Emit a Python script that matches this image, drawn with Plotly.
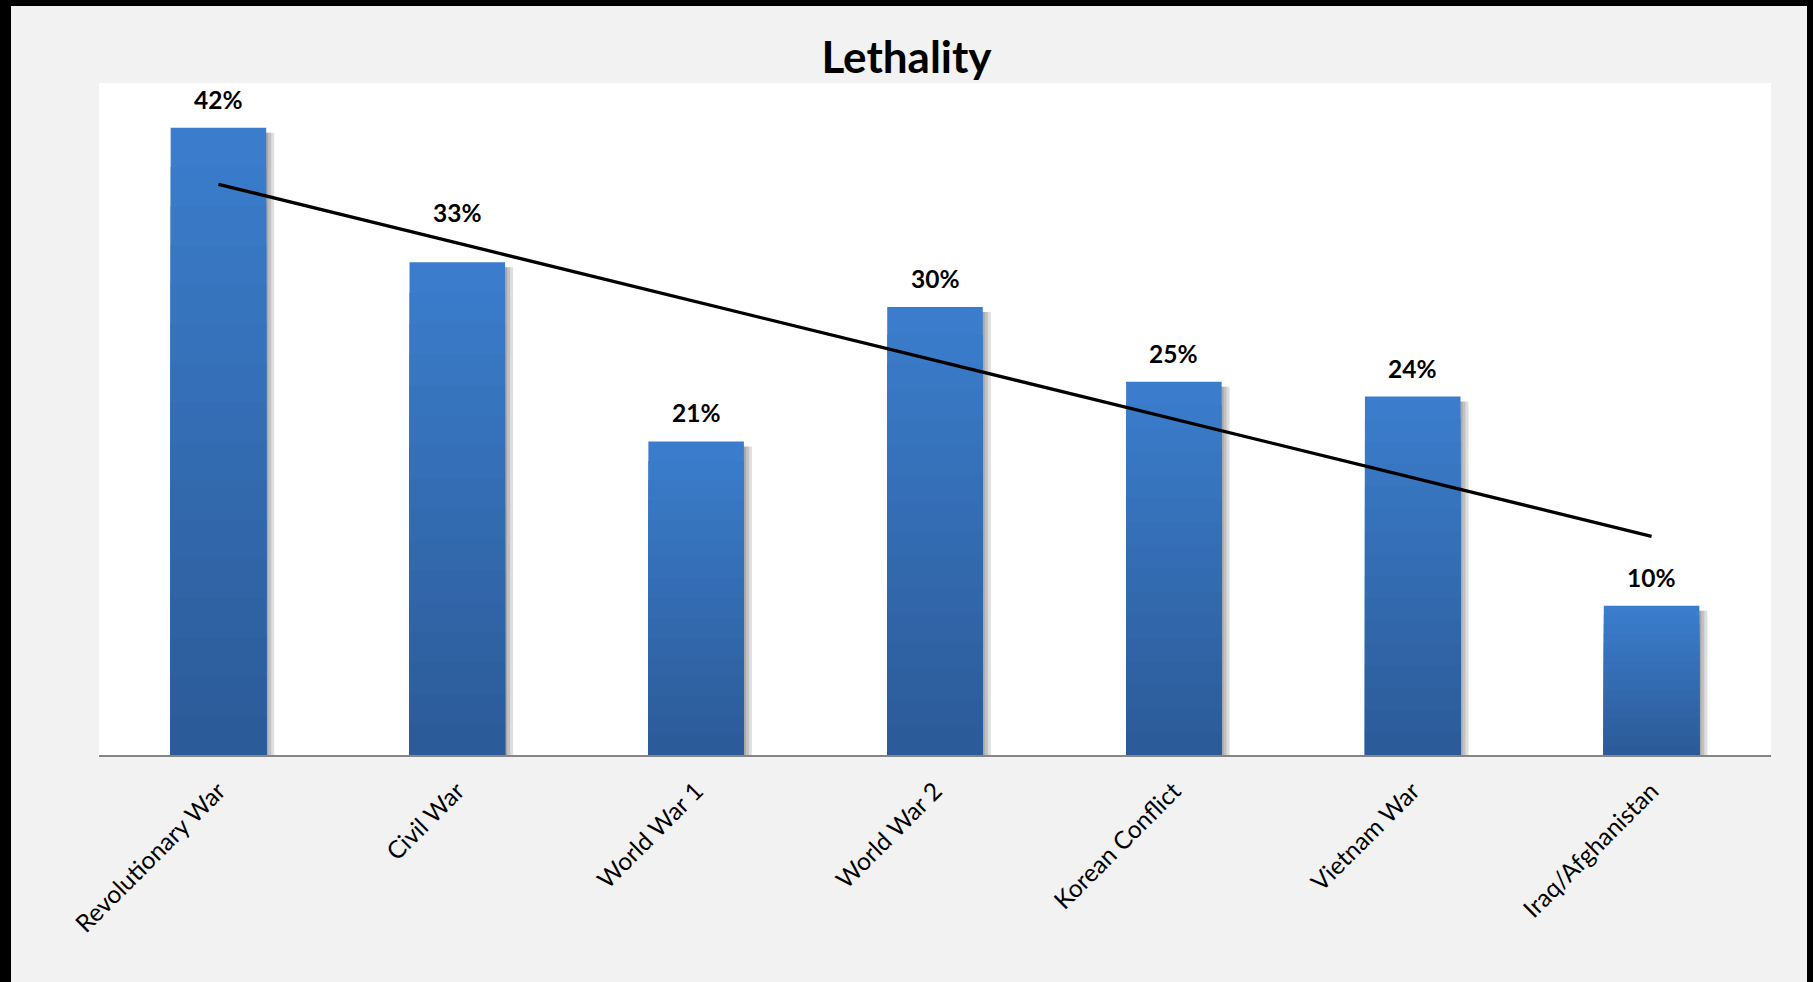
import numpy as np
import plotly.graph_objects as go

# ---- data ----
categories = ["Revolutionary War", "Civil War", "World War 1", "World War 2",
              "Korean Conflict", "Vietnam War", "Iraq/Afghanistan"]
lethality = [0.42, 0.33, 0.21, 0.30, 0.25, 0.24, 0.10]
title_text = "Lethality"

# ---- layout constants ----
W, H = 1813, 982
ML, MR, MT, MB = 99, 42, 83, 227
PW, PH = W - ML - MR, H - MT - MB
YMAX = 0.45
FONT = "Lato, 'Open Sans', Arial, sans-serif"

BAR_W = 0.40
unit_px = PW / len(categories)
top_rgb = np.array([59, 125, 204])
bot_rgb = np.array([44, 91, 153])
label_shift = {"Civil War": 21}  # label lifted clear of the trendline

vals = np.array(lethality)
fig = go.Figure()

# soft drop shadow (right side) derived from the data bars
shadow_drop = 5 / PH * YMAX
for dpx in (2, 5, 8):
    fig.add_trace(go.Bar(
        x=categories, y=np.maximum(vals - shadow_drop, 0),
        width=BAR_W, offset=-BAR_W / 2 + dpx / unit_px,
        marker=dict(color="rgba(0,0,0,0.13)", line=dict(width=0)),
        hoverinfo="skip", showlegend=False))

# main bars (data) with a vertical gradient built from overlaid layers
N = 16
for k in range(N):
    t = k / (N - 1)
    c = top_rgb * (1 - t) + bot_rgb * t
    color = "rgb(%d,%d,%d)" % tuple(np.round(c).astype(int))
    frac = (N - k) / N
    fig.add_trace(go.Bar(
        x=categories, y=vals * frac,
        width=BAR_W, offset=-BAR_W / 2,
        marker=dict(color=color, line=dict(width=0)),
        name="Lethality" if k == 0 else None,
        hoverinfo="x+y" if k == 0 else "skip",
        showlegend=False))

# linear trendline fitted to the data
xi = np.arange(len(categories))
slope, intercept = np.polyfit(xi, vals, 1)
fig.add_trace(go.Scatter(
    x=categories, y=intercept + slope * xi, mode="lines",
    line=dict(color="black", width=3.3), hoverinfo="skip", showlegend=False))

# value labels
for c, v in zip(categories, lethality):
    fig.add_annotation(x=c, y=v, text="<b>%d%%</b>" % round(v * 100),
                       showarrow=False, yanchor="bottom",
                       yshift=12 + label_shift.get(c, 0),
                       font=dict(family=FONT, size=24.5, color="black"))

# black frame on left / top / right edges
def px_x(p):
    return (p - ML) / PW

def px_y(p):
    return (H - MB - p) / PH

frame = [(0, 0, 11, H), (0, 0, W, 6), (W - 6, 0, W, H)]
for x0, y0, x1, y1 in frame:
    fig.add_shape(type="rect", xref="paper", yref="paper",
                  x0=px_x(x0), x1=px_x(x1), y0=px_y(y1), y1=px_y(y0),
                  fillcolor="black", line=dict(width=0), layer="above")

fig.update_layout(
    width=W, height=H,
    margin=dict(l=ML, r=MR, t=MT, b=MB),
    paper_bgcolor="#f2f2f2", plot_bgcolor="white",
    barmode="overlay",
    showlegend=False,
    font=dict(family=FONT, color="black"),
    title=dict(text="<b>%s</b>" % title_text, x=0.5, xref="container",
               y=1 - 58 / H, yref="container", yanchor="middle",
               xanchor="center",
               font=dict(family=FONT, size=44, color="black")),
    xaxis=dict(type="category", tickangle=-45, ticks="", ticklen=0,
               ticklabelstandoff=10,
               showgrid=False, zeroline=False,
               showline=True, linecolor="#868686", linewidth=2,
               tickfont=dict(family=FONT, size=24.5, color="black"),
               fixedrange=True),
    yaxis=dict(range=[0, YMAX], visible=False, showgrid=False,
               zeroline=False, fixedrange=True),
)

fig.write_html("out.html")
